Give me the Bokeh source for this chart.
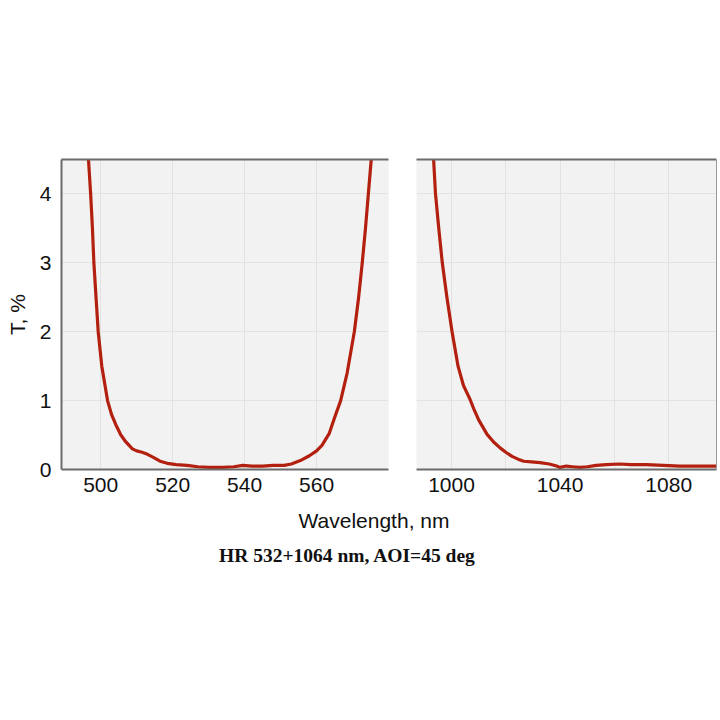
from bokeh.plotting import figure
from bokeh.layouts import row, column
from bokeh.models import Range1d, FixedTicker, LinearAxis, ColumnDataSource
from bokeh.core.properties import value
from bokeh.embed import file_html
from bokeh.resources import INLINE

# ---- data ----
wl_vis = [496.6, 497.2, 497.7, 498.1, 498.7, 499.3, 500.3, 501.9, 503.0, 504.2,
          505.6, 507.0, 508.8, 510.0, 511.5, 513.0, 514.5, 516.5, 518.5, 521.0,
          524.0, 527.0, 530.0, 534.0, 537.0, 539.5, 542.0, 545.0, 548.0, 551.0,
          553.0, 555.5, 558.0, 560.0, 561.5, 563.5, 565.0, 566.7, 568.5, 570.5,
          571.7, 572.7, 573.6, 574.4, 575.2]
t_vis = [4.5, 4.0, 3.5, 3.0, 2.5, 2.0, 1.5, 1.0, 0.8, 0.65,
         0.5, 0.4, 0.30, 0.27, 0.25, 0.22, 0.18, 0.12, 0.09, 0.07,
         0.06, 0.04, 0.03, 0.03, 0.04, 0.06, 0.05, 0.05, 0.06, 0.06,
         0.08, 0.13, 0.2, 0.27, 0.35, 0.52, 0.75, 1.0, 1.4, 2.0,
         2.5, 3.0, 3.5, 4.0, 4.5]

wl_ir = [993.4, 994.1, 995.3, 996.6, 998.3, 1000.2, 1002.4, 1004.4, 1005.6, 1006.8,
         1008.2, 1010.0, 1013.1, 1015.5, 1018.0, 1020.0, 1022.3, 1024.5, 1026.6, 1029.5,
         1032.6, 1036.0, 1038.7, 1040.0, 1042.3, 1044.5, 1047.2, 1050.0, 1053.3, 1057.0,
         1061.9, 1066.0, 1071.7, 1078.0, 1084.0, 1090.0, 1097.6]
t_ir = [4.5, 4.0, 3.5, 3.0, 2.5, 2.0, 1.5, 1.22, 1.12, 1.02,
        0.88, 0.72, 0.51, 0.40, 0.31, 0.25, 0.19, 0.15, 0.12, 0.11,
        0.10, 0.08, 0.05, 0.03, 0.05, 0.04, 0.03, 0.04, 0.06, 0.07,
        0.08, 0.07, 0.07, 0.06, 0.05, 0.05, 0.05]

y_ticks = [0, 1, 2, 3, 4]
x_ticks_vis = [500, 520, 540, 560]
x_grid_vis = [500, 520, 540, 560, 580]
x_ticks_ir = [1000, 1040, 1080]
x_grid_ir = [1000, 1020, 1040, 1060, 1080, 1100]

x_label = "Wavelength, nm"
y_label = "T, %"
title_text = "HR 532+1064 nm, AOI=45 deg"

LINE = "#b3200f"
BG = "#f2f2f2"
GRID = "#e2e2e2"
AXIS = "#6b6b6b"
FONT = "Liberation Sans"


def style_axis(ax, labels=True):
    ax.axis_line_color = AXIS
    ax.axis_line_width = 2
    ax.major_tick_line_color = None
    ax.minor_tick_line_color = None
    ax.major_tick_out = 0
    ax.major_tick_in = 0
    ax.minor_tick_out = 0
    ax.minor_tick_in = 0
    ax.major_label_text_font = FONT
    ax.major_label_text_color = "#111111"
    if labels:
        ax.major_label_text_font_size = "21px"
    else:
        ax.major_label_text_font_size = "0px"
        ax.major_label_standoff = 0


# ---- left panel ----
p1 = figure(width=400, height=505, output_backend="svg", toolbar_location=None,
            x_range=Range1d(489.1, 580.0), y_range=Range1d(0, 4.5),
            min_border_left=61, min_border_right=12, min_border_top=159,
            min_border_bottom=36)
p1.outline_line_color = None
p1.background_fill_color = BG
p1.border_fill_color = "white"
p1.line(wl_vis, t_vis, line_color=LINE, line_width=3.2, line_join="round")
p1.xaxis.ticker = FixedTicker(ticks=x_ticks_vis)
p1.yaxis.ticker = FixedTicker(ticks=y_ticks)
p1.xgrid.ticker = FixedTicker(ticks=x_grid_vis)
p1.ygrid.ticker = FixedTicker(ticks=y_ticks)
for g in (p1.xgrid, p1.ygrid):
    g.grid_line_color = GRID
    g.grid_line_width = 1
style_axis(p1.xaxis[0])
style_axis(p1.yaxis[0])
p1.xaxis.major_label_standoff = 8
p1.yaxis.major_label_standoff = 10
p1.yaxis.axis_label = y_label
p1.yaxis.axis_label_text_font = FONT
p1.yaxis.axis_label_text_font_size = "21px"
p1.yaxis.axis_label_text_font_style = "normal"
p1.yaxis.axis_label_text_color = "#111111"
p1.yaxis.axis_label_standoff = 8
top1 = LinearAxis(ticker=FixedTicker(ticks=[]))
style_axis(top1, labels=False)
p1.add_layout(top1, "above")

# ---- right panel ----
p2 = figure(width=320, height=505, output_backend="svg", toolbar_location=None,
            x_range=Range1d(987.1, 1097.6), y_range=Range1d(0, 4.5),
            y_axis_location="right",
            min_border_left=16, min_border_right=4, min_border_top=159,
            min_border_bottom=36)
p2.outline_line_color = None
p2.background_fill_color = BG
p2.border_fill_color = "white"
p2.line(wl_ir, t_ir, line_color=LINE, line_width=3.2, line_join="round")
p2.xaxis.ticker = FixedTicker(ticks=x_ticks_ir)
p2.yaxis.ticker = FixedTicker(ticks=[])
p2.xgrid.ticker = FixedTicker(ticks=x_grid_ir)
p2.ygrid.ticker = FixedTicker(ticks=y_ticks)
for g in (p2.xgrid, p2.ygrid):
    g.grid_line_color = GRID
    g.grid_line_width = 1
style_axis(p2.xaxis[0])
p2.xaxis.major_label_standoff = 8
style_axis(p2.yaxis[0], labels=False)
p2.yaxis.axis_line_color = "#9a9a9a"
p2.yaxis.axis_line_width = 1
top2 = LinearAxis(ticker=FixedTicker(ticks=[]))
style_axis(top2, labels=False)
p2.add_layout(top2, "above")

# ---- text panel (shared x label and caption) ----
p3 = figure(width=720, height=80, output_backend="svg", toolbar_location=None,
            x_range=Range1d(0, 720), y_range=Range1d(80, 0),
            x_axis_location=None, y_axis_location=None,
            min_border=0)
p3.outline_line_color = None
p3.grid.visible = False
p3.background_fill_color = "white"
p3.border_fill_color = "white"
src_lab = ColumnDataSource(dict(x=[373.5], y=[15], t=[x_label]))
p3.text(x="x", y="y", text="t", source=src_lab, text_font=value(FONT),
        text_font_size="21px", text_align="center", text_baseline="middle",
        text_color="#111111")
src_title = ColumnDataSource(dict(x=[347], y=[50], t=[title_text]))
p3.text(x="x", y="y", text="t", source=src_title, text_font=value("Liberation Serif"),
        text_font_size="19.5px", text_font_style="bold", text_align="center",
        text_baseline="middle", text_color="#111111")

layout = column(row(p1, p2), p3)

open("out.html", "w").write(file_html(layout, INLINE))
